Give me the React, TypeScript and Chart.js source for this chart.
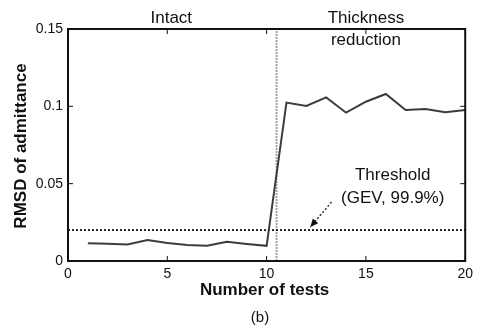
import React, { useEffect, useRef } from "react";
import { Chart, registerables } from "chart.js";

Chart.register(...registerables);

const tests = [1, 2, 3, 4, 5, 6, 7, 8, 9, 10, 11, 12, 13, 14, 15, 16, 17, 18, 19, 20];
const rmsd = [0.0114, 0.0112, 0.0107, 0.0135, 0.0116, 0.0104, 0.0098, 0.0124, 0.0110, 0.0098,
  0.1024, 0.1002, 0.1058, 0.0959, 0.1030, 0.1080, 0.0976, 0.0983, 0.0962, 0.0976];
const thresholdValue = 0.02;
const changeAt = 10.5;
const xTicks = [0, 5, 10, 15, 20];
const yTicks = [0, 0.05, 0.1, 0.15];

const FONT = "'Liberation Sans', Arial, Helvetica, sans-serif";

const decor = {
  id: "decor",
  afterDraw(chart: any) {
    const { ctx, chartArea: a, scales } = chart;
    const xs = scales.x, ys = scales.y;
    ctx.save();
    // frame
    ctx.strokeStyle = "#111";
    ctx.lineWidth = 2;
    ctx.strokeRect(a.left, a.top, a.right - a.left, a.bottom - a.top);
    // inward ticks
    ctx.lineWidth = 1;
    ctx.beginPath();
    xTicks.forEach((v) => {
      const px = xs.getPixelForValue(v);
      ctx.moveTo(px, a.bottom); ctx.lineTo(px, a.bottom - 5);
      ctx.moveTo(px, a.top); ctx.lineTo(px, a.top + 5);
    });
    yTicks.forEach((v) => {
      const py = ys.getPixelForValue(v);
      ctx.moveTo(a.left, py); ctx.lineTo(a.left + 5, py);
      ctx.moveTo(a.right, py); ctx.lineTo(a.right - 5, py);
    });
    ctx.stroke();

    // texts
    ctx.fillStyle = "#111";
    ctx.textAlign = "center";
    ctx.textBaseline = "middle";
    ctx.font = `17px ${FONT}`;
    ctx.fillText("Intact", xs.getPixelForValue(5.2), a.top - 11);
    ctx.fillText("Thickness", xs.getPixelForValue(15.0), a.top - 11);
    ctx.fillText("reduction", xs.getPixelForValue(15.0), a.top + 11);
    ctx.fillText("Threshold", xs.getPixelForValue(16.35), ys.getPixelForValue(0.0556));
    ctx.fillText("(GEV, 99.9%)", xs.getPixelForValue(16.35), ys.getPixelForValue(0.0407));

    // arrow
    const x1 = xs.getPixelForValue(13.27), y1 = ys.getPixelForValue(0.0381);
    const x2 = xs.getPixelForValue(12.2), y2 = ys.getPixelForValue(0.022);
    ctx.strokeStyle = "#333";
    ctx.lineWidth = 1.5;
    ctx.setLineDash([2, 2]);
    ctx.beginPath();
    ctx.moveTo(x1, y1); ctx.lineTo(x2, y2);
    ctx.stroke();
    ctx.setLineDash([]);
    const ang = Math.atan2(y2 - y1, x2 - x1);
    const L = 8, W = 3.5;
    ctx.fillStyle = "#111";
    ctx.beginPath();
    ctx.moveTo(x2, y2);
    ctx.lineTo(x2 - L * Math.cos(ang) + W * Math.sin(ang), y2 - L * Math.sin(ang) - W * Math.cos(ang));
    ctx.lineTo(x2 - L * Math.cos(ang) - W * Math.sin(ang), y2 - L * Math.sin(ang) + W * Math.cos(ang));
    ctx.closePath();
    ctx.fill();

    // axis titles
    ctx.fillStyle = "#111";
    ctx.font = `bold 17px ${FONT}`;
    ctx.fillText("Number of tests", (a.left + a.right) / 2 - 2, 290);
    ctx.save();
    ctx.translate(21, (a.top + a.bottom) / 2 + 1);
    ctx.rotate(-Math.PI / 2);
    ctx.fillText("RMSD of admittance", 0, 0);
    ctx.restore();
    ctx.font = `15px ${FONT}`;
    ctx.fillText("(b)", 260, 318);
    ctx.restore();
  },
};

export default function App() {
  const ref = useRef<HTMLCanvasElement | null>(null);
  useEffect(() => {
    if (!ref.current) return;
    const chart = new Chart(ref.current, {
      type: "line",
      data: {
        datasets: [
          {
            data: tests.map((t, i) => ({ x: t, y: rmsd[i] })),
            borderColor: "#3c3c3c",
            borderWidth: 2,
            pointRadius: 0,
            tension: 0,
          },
          {
            data: [{ x: 0, y: thresholdValue }, { x: 20, y: thresholdValue }],
            borderColor: "#111",
            borderWidth: 1.8,
            borderDash: [2, 2],
            pointRadius: 0,
          },
          {
            data: [{ x: changeAt, y: 0 }, { x: changeAt, y: 0.15 }],
            borderColor: "#9a9a9a",
            borderWidth: 1.8,
            borderDash: [2, 1],
            pointRadius: 0,
          },
        ],
      },
      options: {
        responsive: false,
        animation: false,
        layout: { padding: { top: 29, right: 10, left: 0, bottom: 0 } },
        plugins: { legend: { display: false }, tooltip: { enabled: false } },
        scales: {
          x: {
            type: "linear",
            min: 0,
            max: 20,
            afterBuildTicks: (s: any) => { s.ticks = xTicks.map((v) => ({ value: v })); },
            afterFit: (s: any) => { s.height = 67; },
            grid: { display: false, drawTicks: false },
            border: { display: false },
            ticks: { color: "#111", padding: 5, font: { family: FONT, size: 14 }, maxRotation: 0 },
          },
          y: {
            type: "linear",
            min: 0,
            max: 0.15,
            afterBuildTicks: (s: any) => { s.ticks = yTicks.map((v) => ({ value: v })); },
            afterFit: (s: any) => { s.width = 68; },
            grid: { display: false, drawTicks: false },
            border: { display: false },
            ticks: {
              color: "#111",
              padding: 5,
              font: { family: FONT, size: 14 },
              callback: (v: any) => String(Math.round(Number(v) * 100) / 100),
            },
          },
        },
      },
      plugins: [decor],
    });
    return () => chart.destroy();
  }, []);
  return (
    <div style={{ position: "absolute", left: 0, top: 0, width: 478, height: 328, background: "#fff" }}>
      <canvas ref={ref} width={478} height={328} style={{ display: "block" }} />
    </div>
  );
}
